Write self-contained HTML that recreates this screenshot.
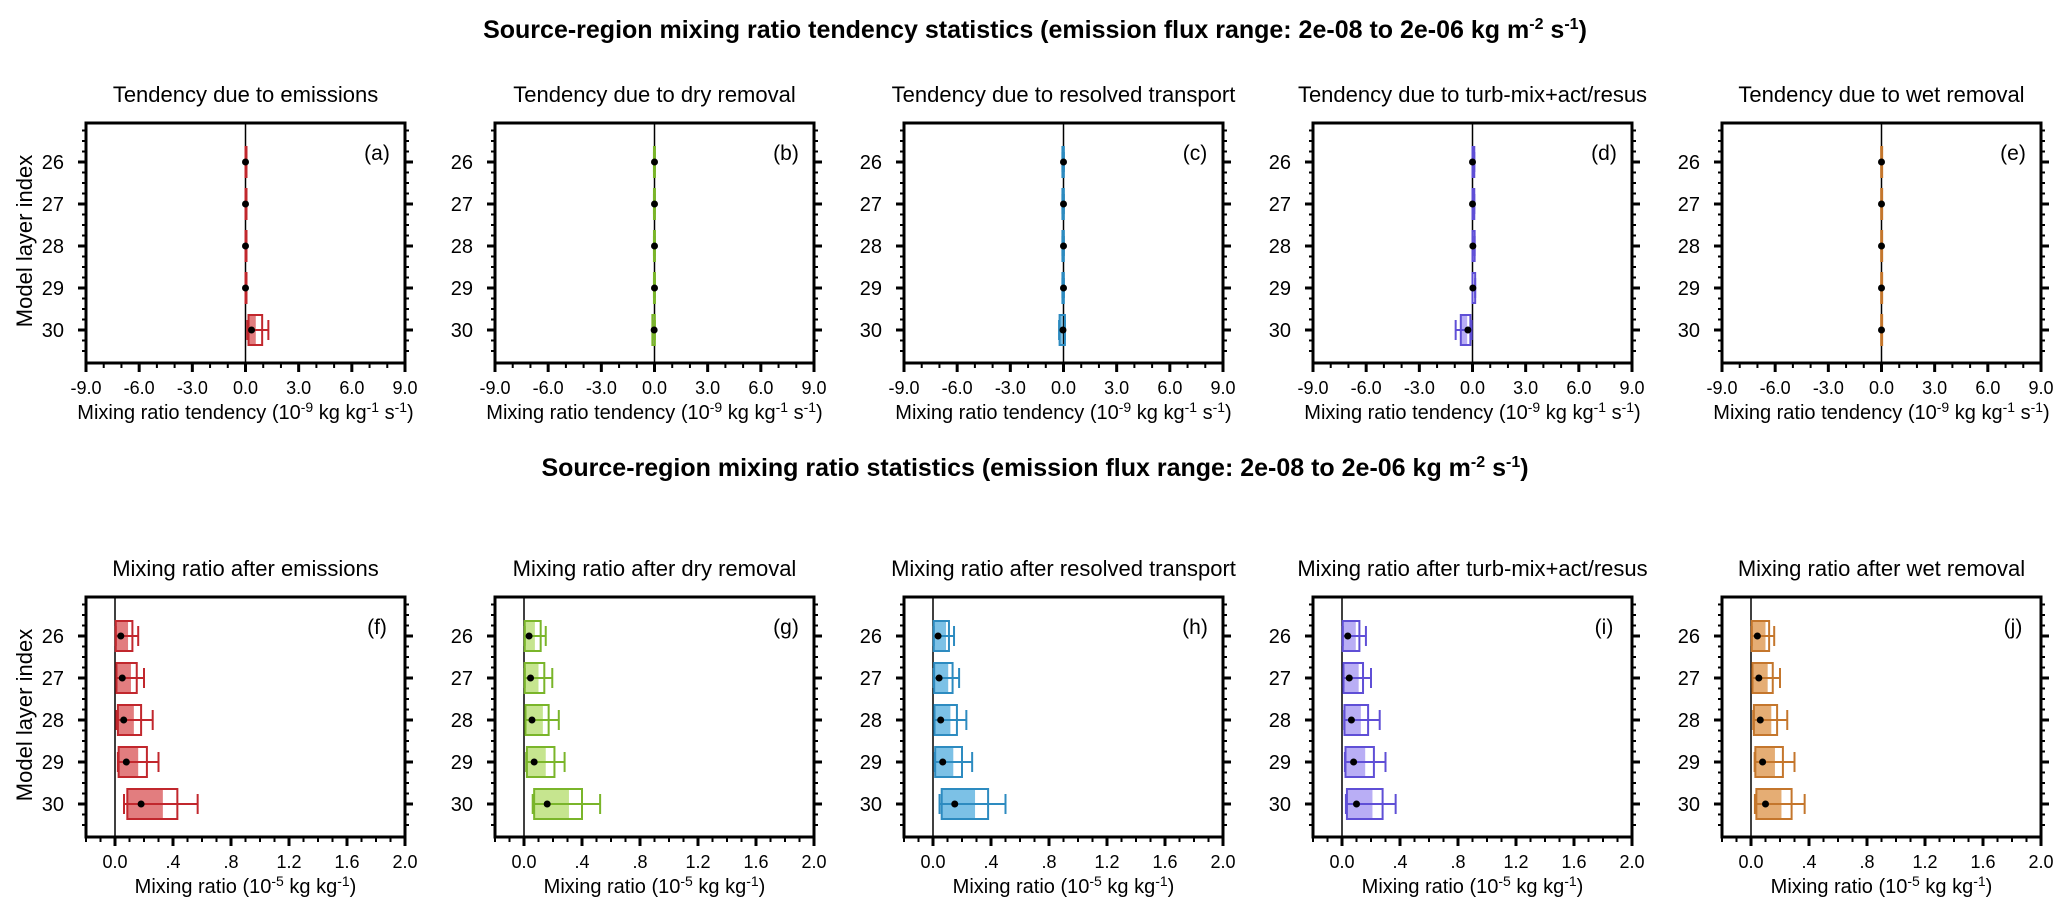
<!DOCTYPE html>
<html><head><meta charset="utf-8"><style>
html,body{margin:0;padding:0;background:#fff;}
svg{display:block;font-family:"Liberation Sans",Arial,sans-serif;}
</style></head><body>
<svg id="fig" width="2067" height="919" viewBox="0 0 2067 919" xmlns="http://www.w3.org/2000/svg">
<text x="1035" y="38" text-anchor="middle" font-size="25" font-weight="bold">Source-region mixing ratio tendency statistics (emission flux range: 2e-08 to 2e-06 kg m<tspan dy="-9" font-size="16">-2</tspan><tspan dy="9"> s</tspan><tspan dy="-9" font-size="16">-1</tspan><tspan dy="9">)</tspan></text>
<text x="1035" y="476" text-anchor="middle" font-size="25" font-weight="bold">Source-region mixing ratio statistics (emission flux range: 2e-08 to 2e-06 kg m<tspan dy="-9" font-size="16">-2</tspan><tspan dy="9"> s</tspan><tspan dy="-9" font-size="16">-1</tspan><tspan dy="9">)</tspan></text>
</svg>
<script>
const layers=[26,27,28,29,30];
const panelTitles=["Tendency due to emissions","Tendency due to dry removal","Tendency due to resolved transport","Tendency due to turb-mix+act/resus","Tendency due to wet removal","Mixing ratio after emissions","Mixing ratio after dry removal","Mixing ratio after resolved transport","Mixing ratio after turb-mix+act/resus","Mixing ratio after wet removal"];
const panelLetters=["(a)","(b)","(c)","(d)","(e)","(f)","(g)","(h)","(i)","(j)"];
const topTicks=["-9.0","-6.0","-3.0","0.0","3.0","6.0","9.0"];
const botTicks=["0.0",".4",".8","1.2","1.6","2.0"];
// box stats per panel: [min,q1,median,q3,max,mean] per layer 26..30
const statsA=[[0,0,0,0.02,0.02,0],[0,0,0,0.02,0.02,0],[0,0,0,0.02,0.02,0],[0,0,0,0.02,0.02,0],[0.1,0.17,0.58,0.94,1.29,0.34]];
const statsB=[[-0.03,-0.03,0,0.02,0.02,0],[-0.03,-0.03,0,0.02,0.02,0],[-0.03,-0.03,0,0.02,0.02,0],[-0.03,-0.03,0,0.02,0.02,0],[-0.1,-0.12,-0.05,0.02,0.02,-0.02]];
const statsC=[[-0.06,-0.06,-0.02,0.02,0.02,0],[-0.06,-0.06,-0.02,0.02,0.02,0],[-0.06,-0.06,-0.02,0.02,0.02,0],[-0.06,-0.06,-0.02,0.02,0.02,0],[-0.25,-0.22,-0.05,0.08,0.08,-0.03]];
const statsD=[[0,0,0.05,0.1,0.1,0],[0,0,0.05,0.1,0.1,0],[0,0,0.05,0.12,0.12,0.02],[0,0,0.05,0.15,0.15,0.02],[-0.95,-0.66,-0.3,-0.12,-0.05,-0.26]];
const statsE=[[0,-0.02,0,0.02,0.02,0],[0,-0.02,0,0.02,0.02,0],[0,-0.02,0,0.02,0.02,0],[0,-0.02,0,0.02,0.02,0],[0,-0.02,0,0.02,0.02,0]];
const statsF=[[0.005,0.005,0.09,0.12,0.16,0.04],[0.01,0.01,0.11,0.15,0.2,0.05],[0.01,0.02,0.13,0.18,0.26,0.06],[0.02,0.025,0.16,0.22,0.30,0.078],[0.062,0.085,0.33,0.43,0.57,0.18]];
const statsG=[[0.005,0.005,0.075,0.115,0.15,0.035],[0.005,0.005,0.10,0.14,0.195,0.045],[0.01,0.01,0.13,0.17,0.24,0.055],[0.015,0.02,0.15,0.21,0.28,0.07],[0.06,0.07,0.31,0.40,0.525,0.16]];
const statsH=[[0.005,0.005,0.09,0.11,0.145,0.035],[0.005,0.008,0.105,0.135,0.18,0.042],[0.01,0.01,0.12,0.165,0.23,0.053],[0.012,0.015,0.14,0.20,0.27,0.067],[0.045,0.06,0.29,0.38,0.50,0.15]];
const statsI=[[0.005,0.005,0.095,0.12,0.165,0.04],[0.01,0.01,0.115,0.145,0.2,0.05],[0.015,0.017,0.13,0.18,0.26,0.065],[0.02,0.024,0.16,0.22,0.30,0.08],[0.027,0.034,0.21,0.28,0.37,0.10]];
const statsJ=[[0.005,0.005,0.1,0.125,0.16,0.044],[0.01,0.01,0.115,0.15,0.2,0.054],[0.015,0.02,0.14,0.18,0.25,0.064],[0.025,0.03,0.165,0.22,0.30,0.08],[0.027,0.037,0.21,0.28,0.37,0.10]];
const allStats=[statsA,statsB,statsC,statsD,statsE,statsF,statsG,statsH,statsI,statsJ];
const lineColors=["#c1272d","#7ab52a","#2d8bc0","#5f4fd6","#c4762c"];
const fillColors=["#e27d7f","#c6e58f","#7cc1e6","#b9aef5","#e5ad74"];

const NS="http://www.w3.org/2000/svg";
const svg=document.getElementById('fig');
function mk(tag,attrs,parent,text){const e=document.createElementNS(NS,tag);for(const k in attrs)e.setAttribute(k,attrs[k]);if(text!==undefined)e.textContent=text;(parent||svg).appendChild(e);return e;}

const W=319,H=240;
for(let p=0;p<10;p++){
  const col=p%5,row=Math.floor(p/5);
  const L=86+col*409,T=row?597:123,R=L+W,B=T+H;
  const isTop=row===0;
  const xmin=isTop?-9:-0.2,xmax=isTop?9:2.0;
  const xs=v=>L+(v-xmin)/(xmax-xmin)*W;
  const y30=T+207;
  const ys=l=>y30-(30-l)*42;
  const g=mk('g',{});
  
  
  const t=mk('text',{x:L+W/2,y:T-21,'text-anchor':'middle','font-size':22},g,panelTitles[p]);
  
  
  const lt=mk('text',{x:R-28,y:T+37,'text-anchor':'middle','font-size':21},g,panelLetters[p]);
  
  
  for(let v=25.25;v<=30.76;v+=0.25){
    const y=ys(v);if(y<T+2||y>B-2)continue;
    const major=Math.abs(v-Math.round(v))<1e-6;
    const len=major?8:4;
    mk('line',{x1:L-len,x2:L,y1:y,y2:y,stroke:'#000','stroke-width':major?3:2},g);
    mk('line',{x1:R,x2:R+len,y1:y,y2:y,stroke:'#000','stroke-width':major?3:2},g);
  }
  layers.forEach(l=>{
    const tl=mk('text',{x:L-22,y:ys(l)+7,'text-anchor':'end','font-size':20},g,String(l));
    
    
  });
  const ticks=isTop?topTicks:botTicks;
  const minorStep=isTop?1:0.1;
  for(let i=0;;i++){
    const v=xmin+i*minorStep;if(v>xmax+1e-6)break;
    const isMaj=isTop?(Math.abs(v/3-Math.round(v/3))<1e-6):(Math.abs(v/0.4-Math.round(v/0.4))<1e-6 && v>-1e-6);
    mk('line',{x1:xs(v),x2:xs(v),y1:B,y2:B+(isMaj?9:5),stroke:'#000','stroke-width':isMaj?3:2},g);
  }
  ticks.forEach(s=>{
    const v=parseFloat(s);
    const tx=mk('text',{x:xs(v),y:B+31,'text-anchor':'middle','font-size':18},g,s);
    
    
  });
  const xt=mk('text',{x:L+W/2,y:B+56,'text-anchor':'middle','font-size':20},g);
  
  
  if(isTop){xt.innerHTML='Mixing ratio tendency (10<tspan dy="-7" font-size="14">-9</tspan><tspan dy="7"> kg kg</tspan><tspan dy="-7" font-size="14">-1</tspan><tspan dy="7"> s</tspan><tspan dy="-7" font-size="14">-1</tspan><tspan dy="7">)</tspan>';}
  else{xt.innerHTML='Mixing ratio (10<tspan dy="-7" font-size="14">-5</tspan><tspan dy="7"> kg kg</tspan><tspan dy="-7" font-size="14">-1</tspan><tspan dy="7">)</tspan>';}
  if(col===0){
    const yt=mk('text',{x:0,y:0,'text-anchor':'middle','font-size':22,transform:`translate(32,${T+118}) rotate(-90)`},g,'Model layer index');
    
    
  }
  mk('line',{x1:xs(0),x2:xs(0),y1:T,y2:B,stroke:'#000','stroke-width':1.5},g);
  const st=allStats[p],lc=lineColors[col],fc=fillColors[col];
  st.forEach((s,i)=>{
    const y=ys(layers[i]);
    const [mn,q1,md,q3,mx,mean]=s;
    const bg=mk('g',{},g);
    
    
    const a=Math.min(xs(q1),xs(md)),b=Math.abs(xs(md)-xs(q1));
    mk('rect',{x:a,y:y-15,width:Math.max(b,1),height:30,fill:fc},bg);
    mk('line',{x1:xs(mn),x2:xs(mx),y1:y,y2:y,stroke:lc,'stroke-width':2},bg);
    mk('line',{x1:xs(mn),x2:xs(mn),y1:y-10,y2:y+10,stroke:lc,'stroke-width':2},bg);
    mk('line',{x1:xs(mx),x2:xs(mx),y1:y-10,y2:y+10,stroke:lc,'stroke-width':2},bg);
    const bx=Math.min(xs(q1),xs(q3)),bw=Math.abs(xs(q3)-xs(q1));
    mk('rect',{x:bx,y:y-15,width:Math.max(bw,1),height:30,fill:'none',stroke:lc,'stroke-width':2},bg);
    const d=mk('circle',{cx:xs(mean),cy:y,r:3.5,fill:'#000'},bg);
    
    
  });
  const fr=mk('rect',{x:L,y:T,width:W,height:H,fill:'none',stroke:'#000','stroke-width':3},g);
  
  
}
</script>
</body></html>
